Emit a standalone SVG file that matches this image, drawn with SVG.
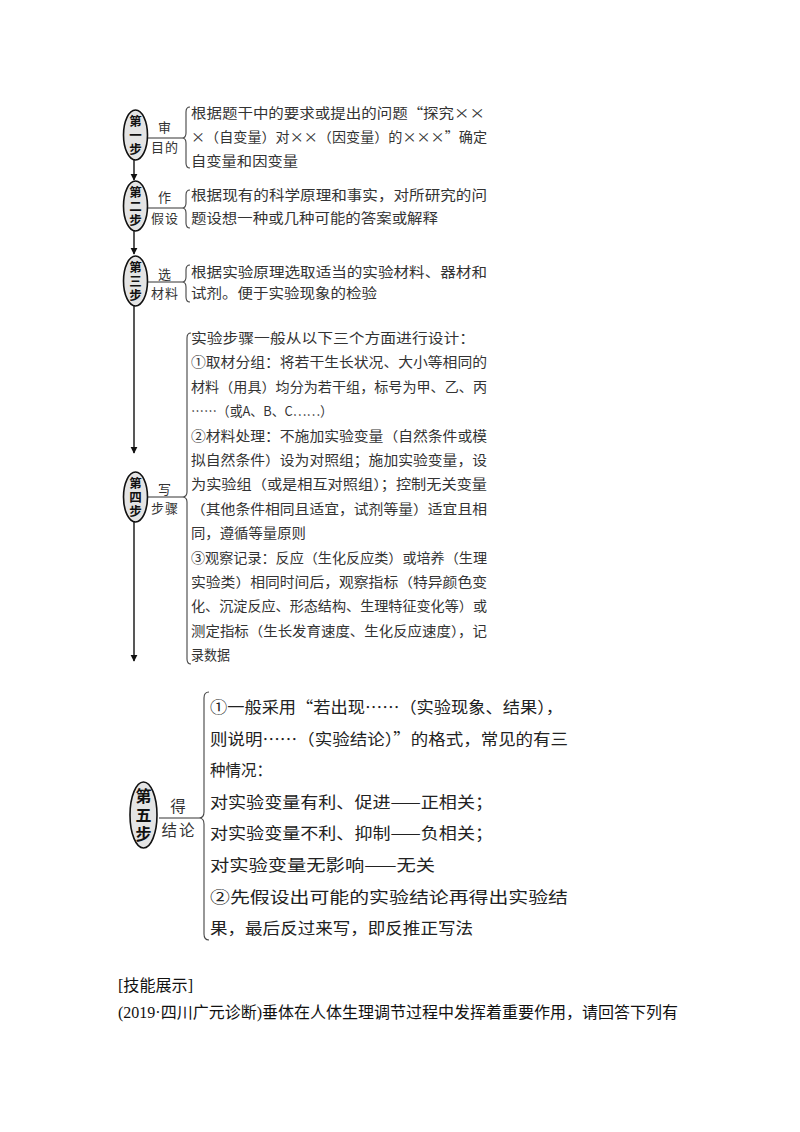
<svg xmlns="http://www.w3.org/2000/svg" width="800" height="1132" viewBox="0 0 800 1132">
<defs>
<marker id="ah" viewBox="0 0 10 10" refX="9" refY="5" markerWidth="7" markerHeight="9" markerUnits="userSpaceOnUse" orient="auto">
<path d="M0,0 L10,5 L0,10 Z" fill="#111"/>
</marker>
</defs>
<style>
.bg{fill:#ffffff}
.oval{fill:#e4e4e4;stroke:#111;stroke-width:1.6}
.st{font-family:"Noto Sans CJK SC","Liberation Sans",sans-serif;font-weight:bold;font-size:12.5px;fill:#111;text-anchor:middle;writing-mode:vertical-rl;letter-spacing:1.5px}
.st5{font-size:16px;letter-spacing:3px}
.lab{font-family:"Noto Sans CJK SC","Liberation Serif",serif;font-size:13px;fill:#333;text-anchor:middle;letter-spacing:1px}
.lab5{font-size:15.5px;letter-spacing:2px}
.rule{stroke:#333;stroke-width:1;fill:none}
.brace{stroke:#444;stroke-width:1.1;fill:none}
.t{font-family:"Noto Sans CJK SC","Liberation Serif",serif;font-size:13.5px;fill:#333}
.t5{font-size:16px;fill:#222}
.conn{stroke:#111;stroke-width:1.4;fill:none}
.foot{font-family:"Liberation Serif","Noto Sans CJK SC",serif;font-size:16px;fill:#111}
</style>
<rect class="bg" x="0" y="0" width="800" height="1132"/>

<g id="connectors">
<line class="conn" x1="134" y1="160" x2="134" y2="180" marker-end="url(#ah)"/>
<line class="conn" x1="134" y1="231" x2="134" y2="254" marker-end="url(#ah)"/>
<line class="conn" x1="134" y1="306" x2="134" y2="453" marker-end="url(#ah)"/>
<line class="conn" x1="134" y1="522" x2="134" y2="661" marker-end="url(#ah)"/>
</g>

<g id="step1">
<ellipse class="oval" cx="135.5" cy="135" rx="12" ry="25"/>
<text class="st" x="135.5" y="135.8">第一步</text>
<text class="lab" x="165" y="132">审</text>
<line class="rule" x1="148" y1="138" x2="182" y2="138"/>
<text class="lab" x="165" y="152">目的</text>
<path class="brace" d="M190,107 Q186,107 186,112 L186,133 Q186,138 182,138 Q186,138 186,143 L186,163 Q186,168 190,168"/>
<text class="t" x="191" y="118" textLength="294" lengthAdjust="spacingAndGlyphs">根据题干中的要求或提出的问题“探究××</text>
<text class="t" x="191" y="142" textLength="296" lengthAdjust="spacingAndGlyphs">×（自变量）对××（因变量）的×××”确定</text>
<text class="t" x="191" y="166" textLength="107" lengthAdjust="spacingAndGlyphs">自变量和因变量</text>
</g>

<g id="step2">
<ellipse class="oval" cx="135.5" cy="206" rx="12" ry="25"/>
<text class="st" x="135.5" y="206.8">第二步</text>
<text class="lab" x="165" y="202">作</text>
<line class="rule" x1="148" y1="208" x2="182" y2="208"/>
<text class="lab" x="165" y="223">假设</text>
<path class="brace" d="M190,190 Q186,190 186,195 L186,203 Q186,208 182,208 Q186,208 186,213 L186,223 Q186,228 190,228"/>
<text class="t" x="191" y="200" textLength="296" lengthAdjust="spacingAndGlyphs">根据现有的科学原理和事实，对所研究的问</text>
<text class="t" x="191" y="223" textLength="247" lengthAdjust="spacingAndGlyphs">题设想一种或几种可能的答案或解释</text>
</g>

<g id="step3">
<ellipse class="oval" cx="135.5" cy="281" rx="12" ry="25"/>
<text class="st" x="135.5" y="281.8">第三步</text>
<text class="lab" x="165" y="279">选</text>
<line class="rule" x1="148" y1="282" x2="182" y2="282"/>
<text class="lab" x="165" y="298">材料</text>
<path class="brace" d="M190,265 Q186,265 186,270 L186,277 Q186,282 182,282 Q186,282 186,287 L186,297 Q186,302 190,302"/>
<text class="t" x="191" y="277" textLength="296" lengthAdjust="spacingAndGlyphs">根据实验原理选取适当的实验材料、器材和</text>
<text class="t" x="191" y="298" textLength="186" lengthAdjust="spacingAndGlyphs">试剂。便于实验现象的检验</text>
</g>

<g id="step4">
<ellipse class="oval" cx="135.5" cy="497" rx="12" ry="25"/>
<text class="st" x="135.5" y="497.8">第四步</text>
<text class="lab" x="165" y="494">写</text>
<line class="rule" x1="148" y1="497" x2="182" y2="497"/>
<text class="lab" x="165" y="513">步骤</text>
<path class="brace" d="M191,333 Q187,333 187,338 L187,492 Q187,497 182,497 Q187,497 187,502 L187,659 Q187,664 191,664"/>
<text class="t" x="191" y="343" textLength="284" lengthAdjust="spacingAndGlyphs">实验步骤一般从以下三个方面进行设计：</text>
<text class="t" x="191" y="367.4" textLength="296" lengthAdjust="spacingAndGlyphs">①取材分组：将若干生长状况、大小等相同的</text>
<text class="t" x="191" y="391.8" textLength="296" lengthAdjust="spacingAndGlyphs">材料（用具）均分为若干组，标号为甲、乙、丙</text>
<text class="t" x="191" y="416.2" textLength="142" lengthAdjust="spacingAndGlyphs">……（或A、B、C……）</text>
<text class="t" x="191" y="440.6" textLength="296" lengthAdjust="spacingAndGlyphs">②材料处理：不施加实验变量（自然条件或模</text>
<text class="t" x="191" y="465" textLength="296" lengthAdjust="spacingAndGlyphs">拟自然条件）设为对照组；施加实验变量，设</text>
<text class="t" x="191" y="489.4" textLength="296" lengthAdjust="spacingAndGlyphs">为实验组（或是相互对照组）；控制无关变量</text>
<text class="t" x="191" y="513.8" textLength="296" lengthAdjust="spacingAndGlyphs">（其他条件相同且适宜，试剂等量）适宜且相</text>
<text class="t" x="191" y="538.2" textLength="115" lengthAdjust="spacingAndGlyphs">同，遵循等量原则</text>
<text class="t" x="191" y="562.6" textLength="296" lengthAdjust="spacingAndGlyphs">③观察记录：反应（生化反应类）或培养（生理</text>
<text class="t" x="191" y="587" textLength="296" lengthAdjust="spacingAndGlyphs">实验类）相同时间后，观察指标（特异颜色变</text>
<text class="t" x="191" y="611.4" textLength="296" lengthAdjust="spacingAndGlyphs">化、沉淀反应、形态结构、生理特征变化等）或</text>
<text class="t" x="191" y="635.8" textLength="296" lengthAdjust="spacingAndGlyphs">测定指标（生长发育速度、生化反应速度），记</text>
<text class="t" x="191" y="660.2" textLength="39" lengthAdjust="spacingAndGlyphs">录数据</text>
</g>

<g id="step5">
<ellipse class="oval" cx="143.5" cy="815" rx="13.5" ry="33"/>
<text class="st st5" x="143.5" y="816.5">第五步</text>
<text class="lab lab5" x="179" y="812">得</text>
<line class="rule" x1="159" y1="818" x2="199" y2="818"/>
<text class="lab lab5" x="179" y="836">结论</text>
<path class="brace" d="M209,692 Q204,692 204,698 L204,812 Q204,818 199,818 Q204,818 204,824 L204,934 Q204,940 209,940"/>
<text class="t t5" x="210" y="713" textLength="353" lengthAdjust="spacingAndGlyphs">①一般采用“若出现……（实验现象、结果），</text>
<text class="t t5" x="210" y="744.6" textLength="358" lengthAdjust="spacingAndGlyphs">则说明……（实验结论）”的格式，常见的有三</text>
<text class="t t5" x="210" y="776.2" textLength="62" lengthAdjust="spacingAndGlyphs">种情况：</text>
<text class="t t5" x="210" y="807.8" textLength="283" lengthAdjust="spacingAndGlyphs">对实验变量有利、促进——正相关；</text>
<text class="t t5" x="210" y="839.4" textLength="283" lengthAdjust="spacingAndGlyphs">对实验变量不利、抑制——负相关；</text>
<text class="t t5" x="210" y="871" textLength="225" lengthAdjust="spacingAndGlyphs">对实验变量无影响——无关</text>
<text class="t t5" x="210" y="902.6" textLength="358" lengthAdjust="spacingAndGlyphs">②先假设出可能的实验结论再得出实验结</text>
<text class="t t5" x="210" y="934.2" textLength="263" lengthAdjust="spacingAndGlyphs">果，最后反过来写，即反推正写法</text>
</g>

<g id="footer">
<text class="foot" x="118" y="991" textLength="75" lengthAdjust="spacingAndGlyphs">[技能展示]</text>
<text class="foot" x="118" y="1018" textLength="560" lengthAdjust="spacingAndGlyphs">(2019·四川广元诊断)垂体在人体生理调节过程中发挥着重要作用，请回答下列有</text>
</g>
</svg>
